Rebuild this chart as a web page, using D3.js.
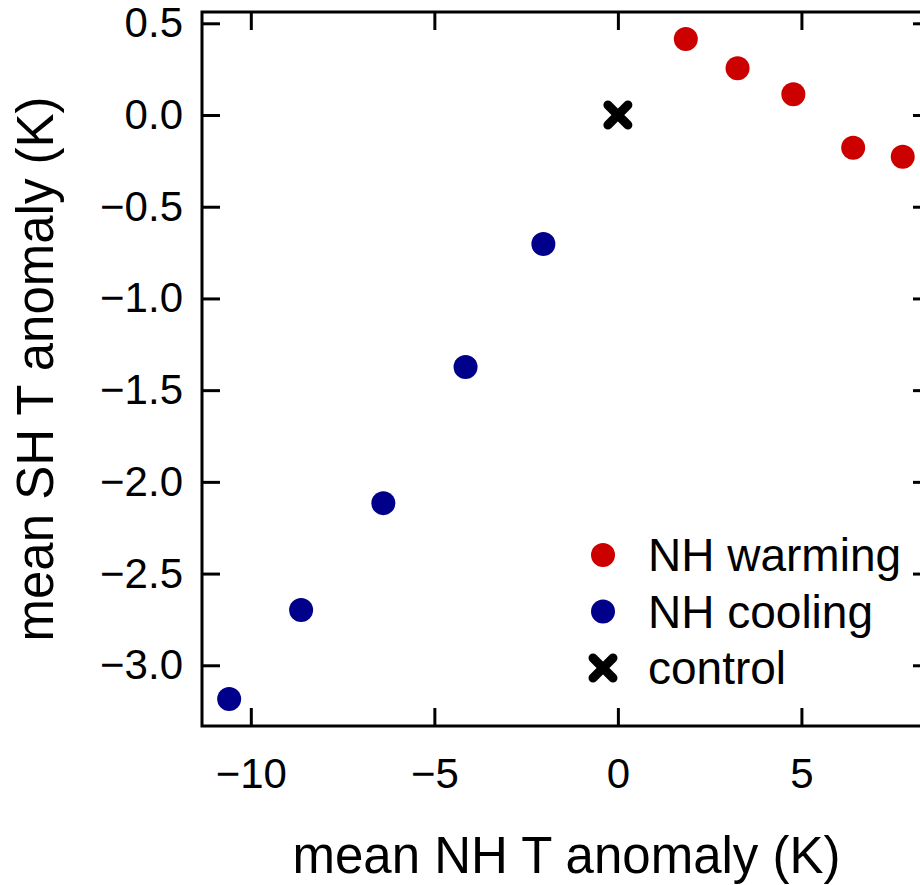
<!DOCTYPE html>
<html>
<head>
<meta charset="utf-8">
<script src="https://cdn.jsdelivr.net/npm/d3@7"></script>
<style>
  body { margin: 0; background: #fff; }
  text { font-family: "Liberation Sans", Arial, Helvetica, sans-serif; fill: #000; }
</style>
</head>
<body>
<div id="container"></div>
<script>
/* CONSTANTS AND GLOBALS */
const width = 920,
  height = 885,
  plot = { left: 202, top: 12, right: 931, bottom: 726 };

/* DATA */
const warmingX = [1.85, 3.26, 4.78, 6.41, 7.76];
const warmingY = [0.414, 0.255, 0.113, -0.178, -0.227];
const coolingX = [-2.03, -4.15, -6.39, -8.63, -10.59];
const coolingY = [-0.703, -1.374, -2.116, -2.699, -3.184];
const controlX = [0];
const controlY = [0];
const xTicks = [-10, -5, 0, 5];
const yTicks = [0.5, 0, -0.5, -1, -1.5, -2, -2.5, -3];
const legendLabels = ["NH warming", "NH cooling", "control"];

const warmColor = "#CD0000",
  coolColor = "#00008B";

/* SCALES */
const xScale = d3.scaleLinear()
  .domain([-11.33, 8.53])
  .range([plot.left, plot.right]);

const yScale = d3.scaleLinear()
  .domain([-3.331, 0.5616])
  .range([plot.bottom, plot.top]);

const svg = d3.select("#container").append("svg")
  .attr("width", width)
  .attr("height", height);

/* AXES (ticks point inward, R style) */
const tickLen = 18;

svg.append("g")
  .attr("class", "x-axis")
  .attr("transform", `translate(0,${plot.bottom})`)
  .call(d3.axisBottom(xScale).tickValues(xTicks).tickFormat(d3.format("d"))
    .tickSizeInner(-tickLen).tickSizeOuter(0).tickPadding(32));

svg.append("g")
  .attr("class", "x-axis-top")
  .attr("transform", `translate(0,${plot.top})`)
  .call(d3.axisTop(xScale).tickValues(xTicks).tickFormat("")
    .tickSizeInner(-tickLen).tickSizeOuter(0));

svg.append("g")
  .attr("class", "y-axis")
  .attr("transform", `translate(${plot.left},0)`)
  .call(d3.axisLeft(yScale).tickValues(yTicks).tickFormat(d3.format(".1f"))
    .tickSizeInner(-tickLen).tickSizeOuter(0).tickPadding(19));

svg.append("g")
  .attr("class", "y-axis-right")
  .attr("transform", `translate(${plot.right},0)`)
  .call(d3.axisRight(yScale).tickValues(yTicks).tickFormat("")
    .tickSizeInner(-tickLen).tickSizeOuter(0));

svg.selectAll(".domain").remove();
svg.selectAll(".tick line")
  .attr("stroke", "#000")
  .attr("stroke-width", 3);
svg.selectAll(".tick text")
  .attr("font-size", 42)
  .attr("font-family", null);

// plot box
svg.append("rect")
  .attr("x", plot.left)
  .attr("y", plot.top)
  .attr("width", plot.right - plot.left)
  .attr("height", plot.bottom - plot.top)
  .attr("fill", "none")
  .attr("stroke", "#000")
  .attr("stroke-width", 3);

/* AXIS TITLES */
svg.append("text")
  .attr("x", (plot.left + plot.right) / 2)
  .attr("y", 873)
  .attr("text-anchor", "middle")
  .attr("font-size", 51)
  .text("mean NH T anomaly (K)");

svg.append("text")
  .attr("transform", `translate(53,${(plot.top + plot.bottom) / 2}) rotate(-90)`)
  .attr("text-anchor", "middle")
  .attr("font-size", 51)
  .text("mean SH T anomaly (K)");

/* POINTS */
const r = 12;

function cross(g, cx, cy, s) {
  g.append("path")
    .attr("d", `M${cx - s},${cy - s}L${cx + s},${cy + s}M${cx - s},${cy + s}L${cx + s},${cy - s}`)
    .attr("stroke", "#000")
    .attr("stroke-width", 9)
    .attr("stroke-linecap", "round")
    .attr("fill", "none");
}

svg.append("g").selectAll("circle")
  .data(d3.zip(warmingX, warmingY))
  .join("circle")
  .attr("cx", d => xScale(d[0]))
  .attr("cy", d => yScale(d[1]))
  .attr("r", r)
  .attr("fill", warmColor);

svg.append("g").selectAll("circle")
  .data(d3.zip(coolingX, coolingY))
  .join("circle")
  .attr("cx", d => xScale(d[0]))
  .attr("cy", d => yScale(d[1]))
  .attr("r", r)
  .attr("fill", coolColor);

const ctrl = svg.append("g");
d3.zip(controlX, controlY).forEach(d => cross(ctrl, xScale(d[0]), yScale(d[1]), 10));

/* LEGEND */
const legend = svg.append("g").attr("transform", "translate(603,555)");
const rowH = 56.5;
legendLabels.forEach((label, i) => {
  const y = i * rowH;
  if (i < 2) {
    legend.append("circle")
      .attr("cx", 0).attr("cy", y).attr("r", r)
      .attr("fill", i === 0 ? warmColor : coolColor);
  } else {
    cross(legend, 0, y, 10);
  }
  legend.append("text")
    .attr("x", 45)
    .attr("y", y)
    .attr("dy", "0.35em")
    .attr("font-size", 46)
    .text(label);
});
</script>
</body>
</html>
